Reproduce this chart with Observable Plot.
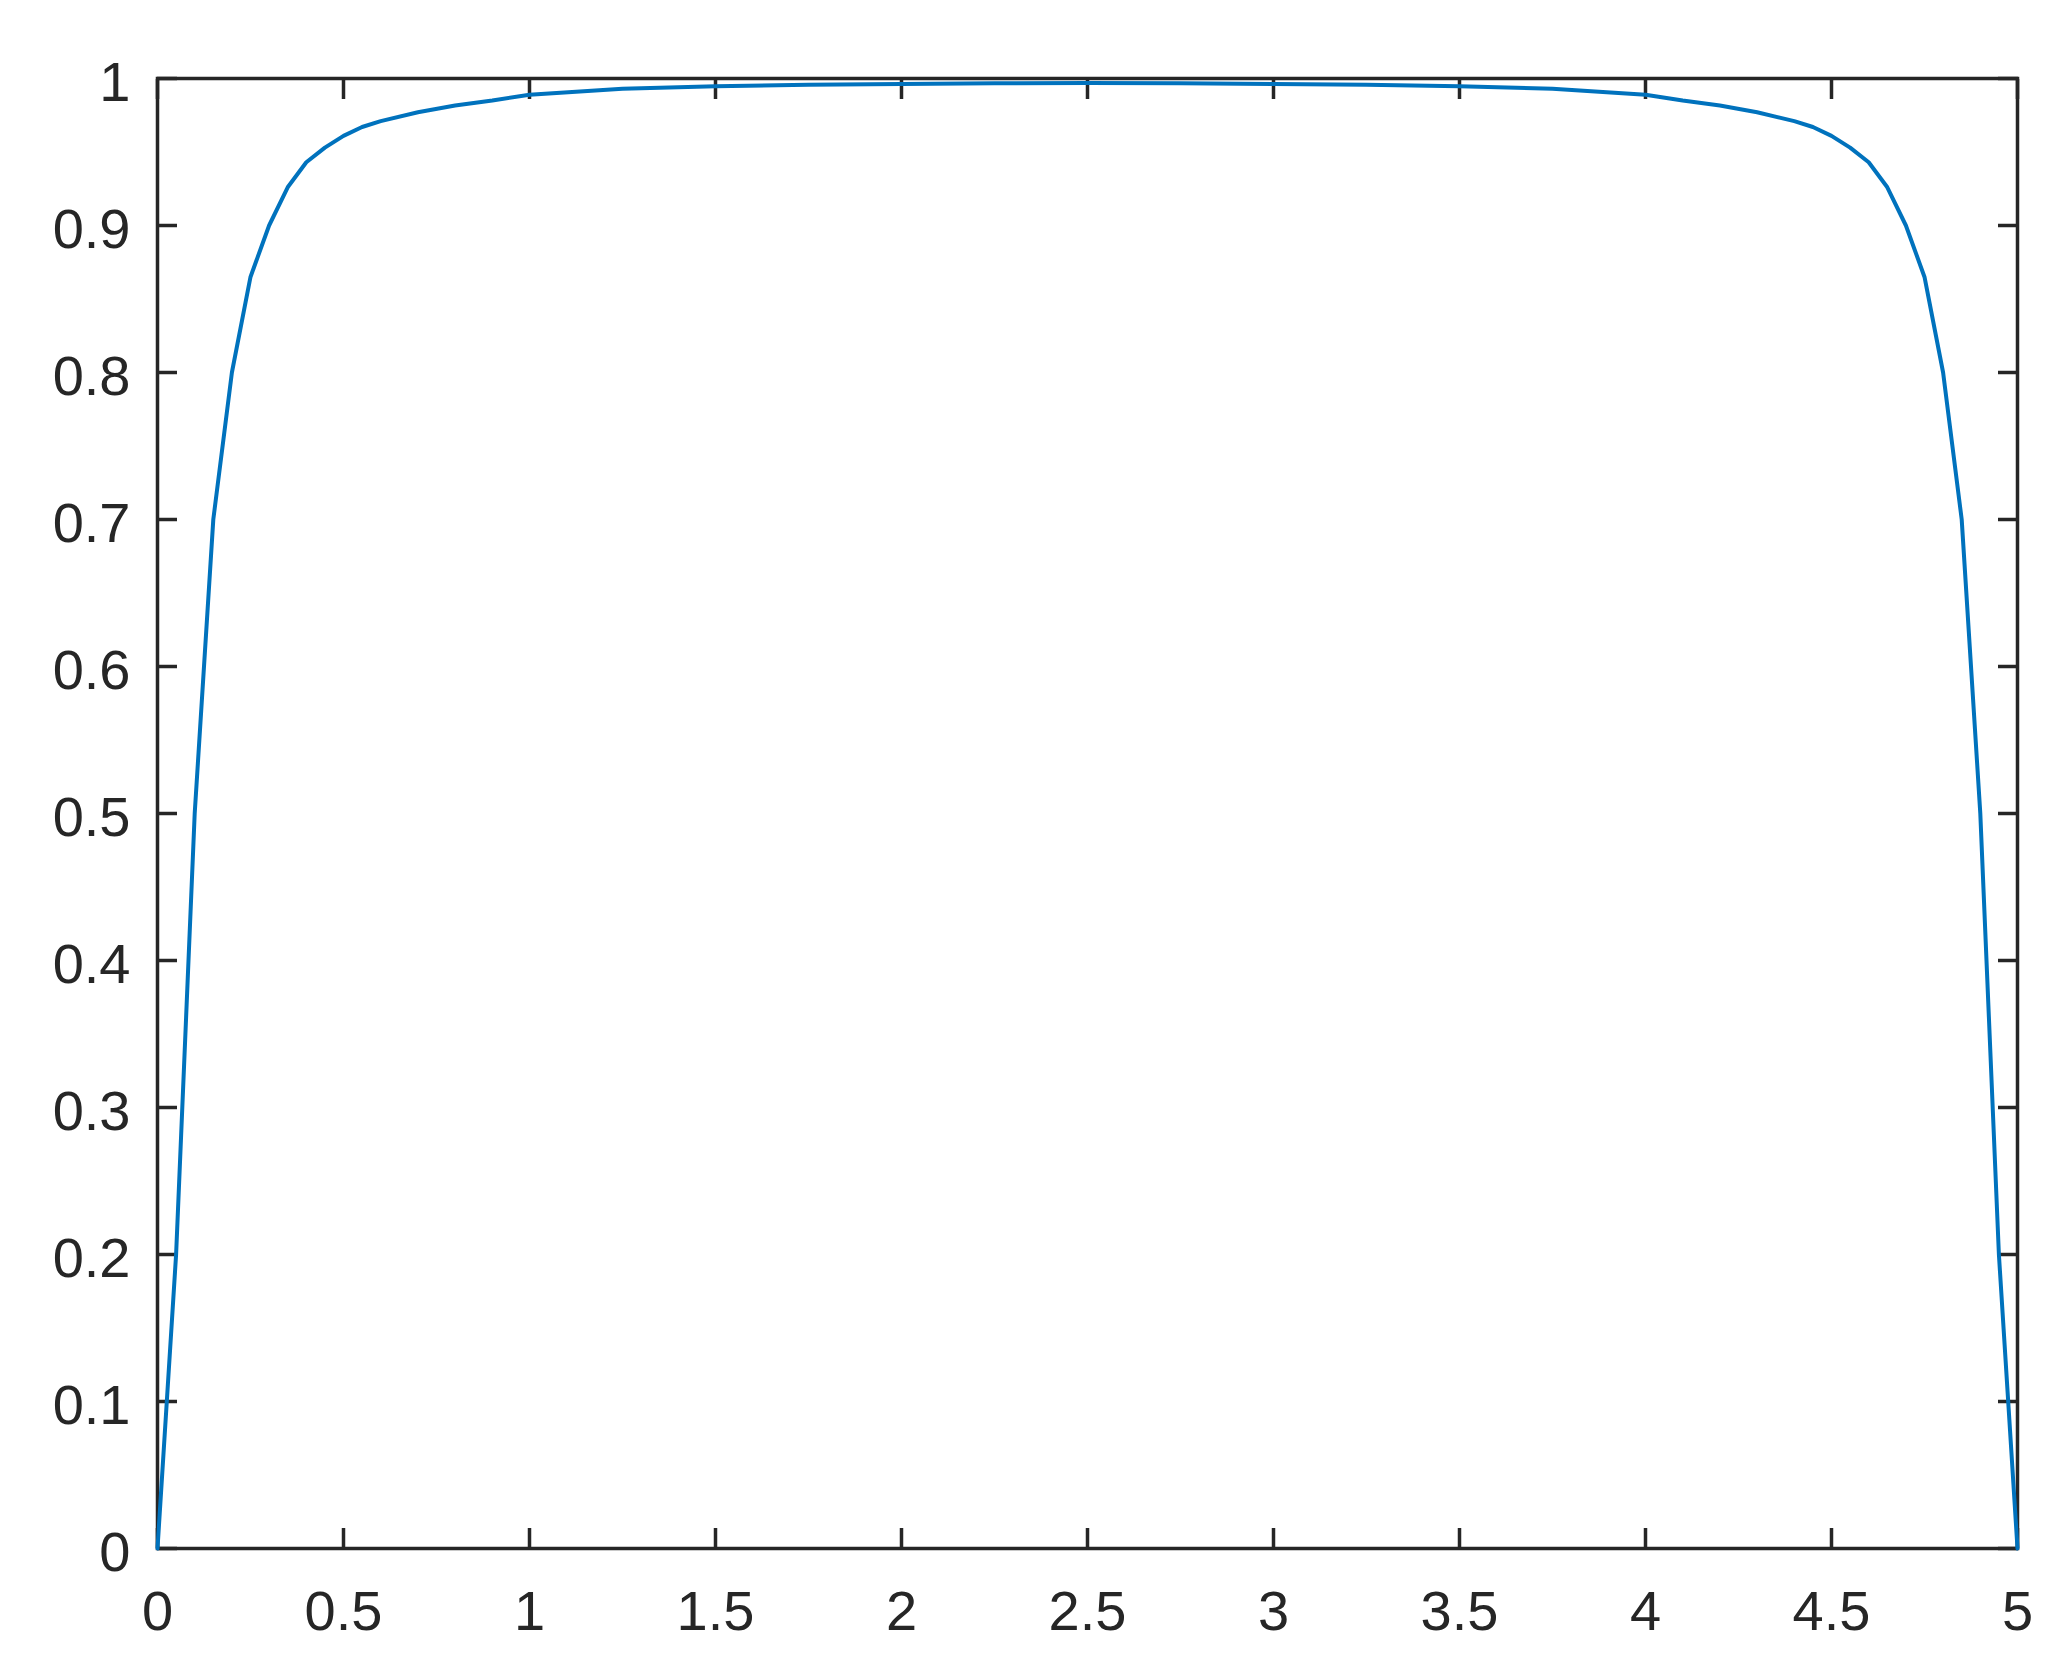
<!DOCTYPE html>
<html>
<head>
<meta charset="utf-8">
<script src="https://cdn.jsdelivr.net/npm/d3@7"></script>
<script src="https://cdn.jsdelivr.net/npm/@observablehq/plot@0.6"></script>
<style>
  html, body { margin: 0; padding: 0; background: #ffffff; }
  #chart svg { display: block; }
</style>
</head>
<body>
<div id="chart"></div>
<script>
// values
const xValues = [0, 0.05, 0.1, 0.15, 0.2, 0.25, 0.3, 0.35, 0.4, 0.45, 0.5, 0.55, 0.6, 0.7, 0.8, 0.9, 1.0,
  1.25, 1.5, 1.75, 2.0, 2.25, 2.5, 2.75, 3.0, 3.25, 3.5, 3.75, 4.0,
  4.1, 4.2, 4.3, 4.4, 4.45, 4.5, 4.55, 4.6, 4.65, 4.7, 4.75, 4.8, 4.85, 4.9, 4.95, 5.0];
const yValues = [0, 0.2, 0.5, 0.70, 0.80, 0.865, 0.90, 0.926, 0.943, 0.953, 0.961, 0.967, 0.971, 0.977, 0.9816, 0.985, 0.989,
  0.993, 0.9948, 0.9957, 0.9962, 0.9967, 0.9969, 0.9967, 0.9962, 0.9957, 0.9948, 0.993, 0.989,
  0.985, 0.9816, 0.977, 0.971, 0.967, 0.961, 0.953, 0.943, 0.926, 0.90, 0.865, 0.80, 0.70, 0.5, 0.2, 0];
const xTicks = [0, 0.5, 1, 1.5, 2, 2.5, 3, 3.5, 4, 4.5, 5];
const yTicks = [0, 0.1, 0.2, 0.3, 0.4, 0.5, 0.6, 0.7, 0.8, 0.9, 1];

const data = xValues.map((x, i) => ({x, y: yValues[i]}));
const ink = "#262626";
const fmt = d => String(d);

const chart = Plot.plot({
  width: 2062,
  height: 1676,
  marginLeft: 157,
  marginRight: 45,
  marginTop: 78,
  marginBottom: 128,
  style: {background: "#ffffff", fontFamily: "'Liberation Sans', Arial, Helvetica, sans-serif", fontSize: "56px", color: ink},
  x: {domain: [0, 5]},
  y: {domain: [0, 1]},
  marks: [
    // labels
    Plot.axisX(xTicks, {anchor: "bottom", tickSize: 0, tickPadding: 42, tickFormat: fmt, label: null, fill: ink, fontSize: 56}),
    Plot.axisY(yTicks, {anchor: "left", tickSize: 0, tickPadding: 27, tickFormat: fmt, label: null, fill: ink, fontSize: 56, dy: 5}),
    // inward ticks on all four sides
    Plot.axisX(xTicks, {anchor: "bottom", tickSize: 20, dy: -20, text: null, label: null, stroke: ink, strokeWidth: 3.5}),
    Plot.axisX(xTicks, {anchor: "top", tickSize: 20, dy: 20, text: null, label: null, stroke: ink, strokeWidth: 3.5}),
    Plot.axisY(yTicks, {anchor: "left", tickSize: 20, dx: 20, text: null, label: null, stroke: ink, strokeWidth: 3.5}),
    Plot.axisY(yTicks, {anchor: "right", tickSize: 20, dx: -20, text: null, label: null, stroke: ink, strokeWidth: 3.5}),
    Plot.frame({stroke: ink, strokeWidth: 3.5}),
    Plot.line(data, {x: "x", y: "y", stroke: "#0072BD", strokeWidth: 4})
  ]
});
document.getElementById("chart").appendChild(chart);
</script>
</body>
</html>
